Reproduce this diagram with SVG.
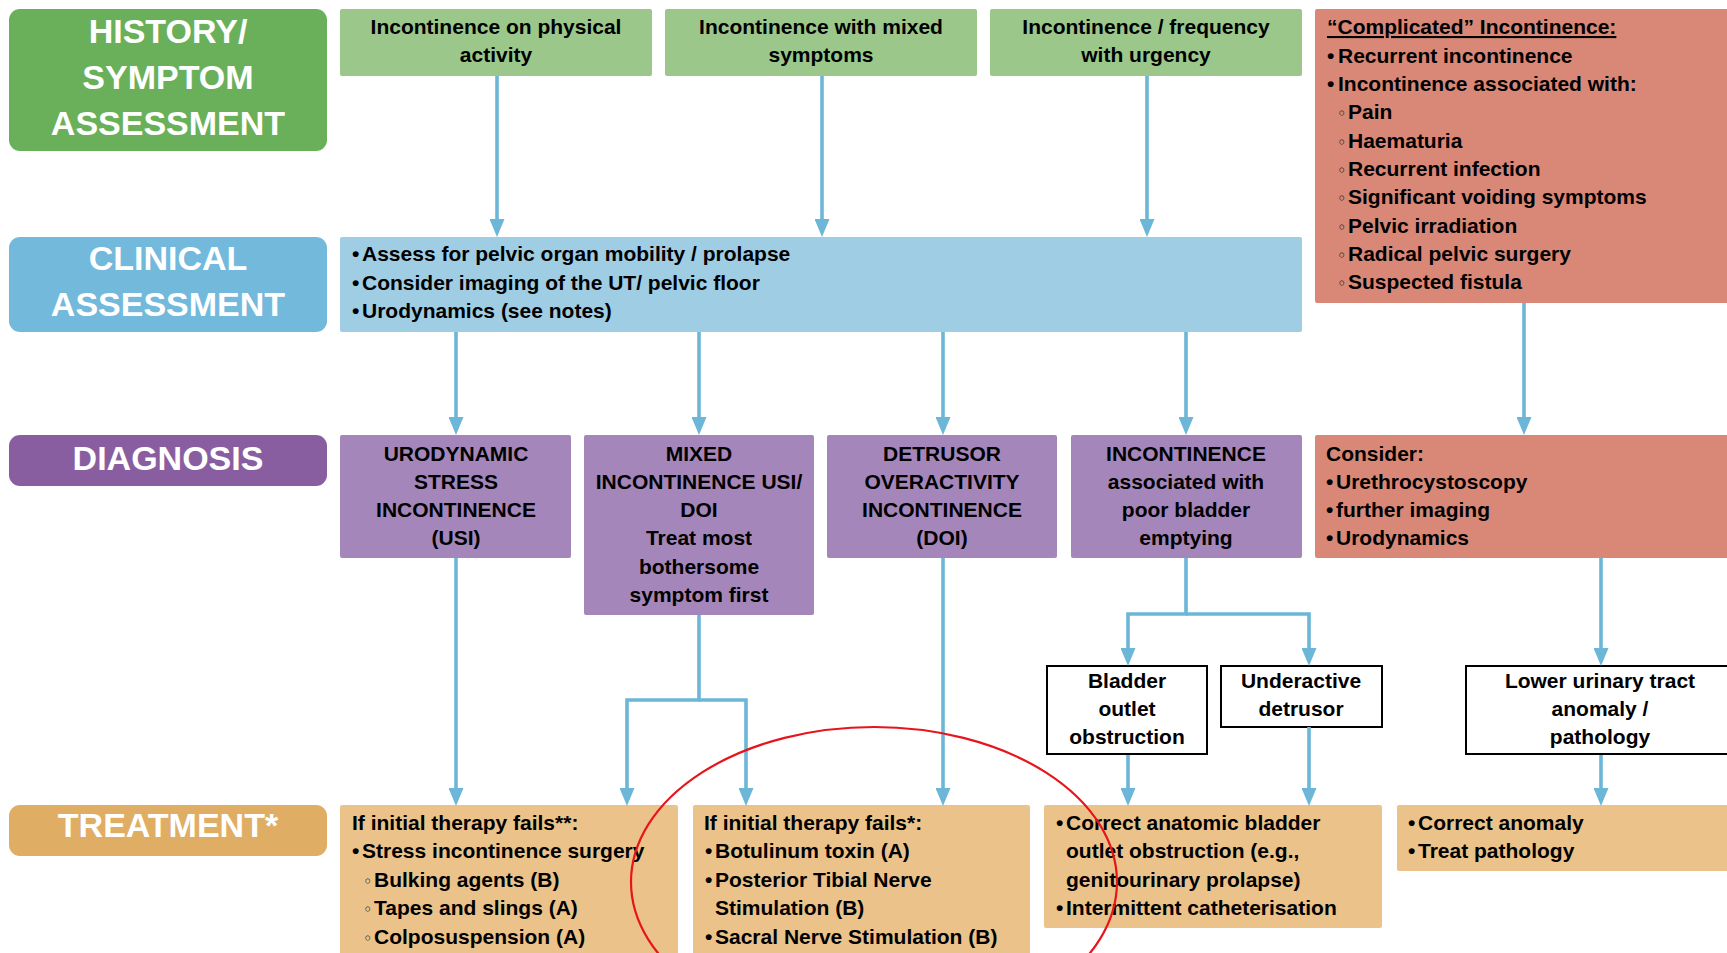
<svg xmlns="http://www.w3.org/2000/svg" width="1727" height="953" viewBox="0 0 1727 953">
<style>
text{font-family:"Liberation Sans",Arial,Helvetica,sans-serif;font-weight:bold;font-size:21px;fill:#000}
.lab{font-size:34px;fill:#fff;text-anchor:middle}
.c{text-anchor:middle}
.sm{font-family:"DejaVu Sans","Liberation Sans",sans-serif;font-size:16px;font-weight:normal}
.conn path{fill:none;stroke:#6cb6d8;stroke-width:3.6;stroke-linejoin:miter;marker-end:url(#ah)}
.g{fill:#9bc78b}
.b{fill:#9fcde3}
.p{fill:#a586bb}
.r{fill:#d98878}
.t{fill:#ebc38a}
.w{fill:#fff;stroke:#000;stroke-width:2}
</style>
<defs>
<marker id="ah" markerUnits="userSpaceOnUse" viewBox="0 0 18 15" refX="4" refY="7.5" markerWidth="18" markerHeight="15" orient="auto">
<path d="M0,0 L18,7.5 L0,15 z" fill="#6cb6d8"/>
</marker>
</defs>
<rect width="1727" height="953" fill="#fff"/>

<g id="label-history"><rect x="9" y="9" width="318" height="142" rx="11" fill="#6ab05a"/>
<text class="lab" x="168" y="43">HISTORY/</text><text class="lab" x="168" y="89">SYMPTOM</text><text class="lab" x="168" y="135">ASSESSMENT</text></g>
<g id="label-clinical"><rect x="9" y="237" width="318" height="95" rx="11" fill="#72b9dc"/>
<text class="lab" x="168" y="270">CLINICAL</text><text class="lab" x="168" y="316">ASSESSMENT</text></g>
<g id="label-diagnosis"><rect x="9" y="435" width="318" height="51" rx="11" fill="#895ea1"/>
<text class="lab" x="168" y="470">DIAGNOSIS</text></g>
<g id="label-treatment"><rect x="9" y="805" width="318" height="51" rx="11" fill="#e0ad64"/>
<text class="lab" x="168" y="837">TREATMENT*</text></g>

<g id="sym-physical"><rect class="g" x="340" y="9" width="312" height="67" rx="2"/>
<text class="c" x="496" y="34">Incontinence on physical</text><text class="c" x="496" y="62">activity</text></g>
<g id="sym-mixed"><rect class="g" x="665" y="9" width="312" height="67" rx="2"/>
<text class="c" x="821" y="34">Incontinence with mixed</text><text class="c" x="821" y="62">symptoms</text></g>
<g id="sym-urgency"><rect class="g" x="990" y="9" width="312" height="67" rx="2"/>
<text class="c" x="1146" y="34">Incontinence / frequency</text><text class="c" x="1146" y="62">with urgency</text></g>

<g id="complicated"><rect class="r" x="1315" y="9" width="420" height="294" rx="2"/>
<text x="1327" y="34" text-decoration="underline">“Complicated” Incontinence:</text>
<text y="63"><tspan x="1327">•</tspan><tspan x="1338">Recurrent incontinence</tspan></text>
<text y="91"><tspan x="1327">•</tspan><tspan x="1338">Incontinence associated with:</tspan></text>
<text y="119"><tspan class="sm" x="1337">◦</tspan><tspan x="1348">Pain</tspan></text>
<text y="148"><tspan class="sm" x="1337">◦</tspan><tspan x="1348">Haematuria</tspan></text>
<text y="176"><tspan class="sm" x="1337">◦</tspan><tspan x="1348">Recurrent infection</tspan></text>
<text y="204"><tspan class="sm" x="1337">◦</tspan><tspan x="1348">Significant voiding symptoms</tspan></text>
<text y="233"><tspan class="sm" x="1337">◦</tspan><tspan x="1348">Pelvic irradiation</tspan></text>
<text y="261"><tspan class="sm" x="1337">◦</tspan><tspan x="1348">Radical pelvic surgery</tspan></text>
<text y="289"><tspan class="sm" x="1337">◦</tspan><tspan x="1348">Suspected fistula</tspan></text></g>

<g id="clinical"><rect class="b" x="340" y="237" width="962" height="95" rx="2"/>
<text y="261"><tspan x="352">•</tspan><tspan x="362">Assess for pelvic organ mobility / prolapse</tspan></text>
<text y="290"><tspan x="352">•</tspan><tspan x="362">Consider imaging of the UT/ pelvic floor</tspan></text>
<text y="318"><tspan x="352">•</tspan><tspan x="362">Urodynamics (see notes)</tspan></text></g>

<g id="dx-usi"><rect class="p" x="340" y="435" width="231" height="123" rx="2"/>
<text class="c" x="456" y="461">URODYNAMIC</text><text class="c" x="456" y="489">STRESS</text><text class="c" x="456" y="517">INCONTINENCE</text><text class="c" x="456" y="545">(USI)</text></g>
<g id="dx-mixed"><rect class="p" x="584" y="435" width="230" height="180" rx="2"/>
<text class="c" x="699" y="461">MIXED</text><text class="c" x="699" y="489">INCONTINENCE USI/</text><text class="c" x="699" y="517">DOI</text><text class="c" x="699" y="545">Treat most</text><text class="c" x="699" y="574">bothersome</text><text class="c" x="699" y="602">symptom first</text></g>
<g id="dx-doi"><rect class="p" x="827" y="435" width="230" height="123" rx="2"/>
<text class="c" x="942" y="461">DETRUSOR</text><text class="c" x="942" y="489">OVERACTIVITY</text><text class="c" x="942" y="517">INCONTINENCE</text><text class="c" x="942" y="545">(DOI)</text></g>
<g id="dx-poor"><rect class="p" x="1071" y="435" width="231" height="123" rx="2"/>
<text class="c" x="1186" y="461">INCONTINENCE</text><text class="c" x="1186" y="489">associated with</text><text class="c" x="1186" y="517">poor bladder</text><text class="c" x="1186" y="545">emptying</text></g>
<g id="dx-consider"><rect class="r" x="1315" y="435" width="420" height="123" rx="2"/>
<text x="1326" y="461">Consider:</text>
<text y="489"><tspan x="1326">•</tspan><tspan x="1336">Urethrocystoscopy</tspan></text>
<text y="517"><tspan x="1326">•</tspan><tspan x="1336">further imaging</tspan></text>
<text y="545"><tspan x="1326">•</tspan><tspan x="1336">Urodynamics</tspan></text></g>

<g id="bladder-outlet"><rect class="w" x="1047" y="666" width="160" height="88"/>
<text class="c" x="1127" y="688">Bladder</text><text class="c" x="1127" y="716">outlet</text><text class="c" x="1127" y="744">obstruction</text></g>
<g id="underactive"><rect class="w" x="1221" y="666" width="161" height="61"/>
<text class="c" x="1301" y="688">Underactive</text><text class="c" x="1301" y="716">detrusor</text></g>
<g id="lut-anomaly"><rect class="w" x="1466" y="666" width="270" height="88"/>
<text class="c" x="1600" y="688">Lower urinary tract</text><text class="c" x="1600" y="716">anomaly /</text><text class="c" x="1600" y="744">pathology</text></g>

<g id="tx-usi"><rect class="t" x="340" y="805" width="338" height="160" rx="2"/>
<text x="352" y="830">If initial therapy fails**:</text>
<text y="858"><tspan x="352">•</tspan><tspan x="362">Stress incontinence surgery</tspan></text>
<text y="887"><tspan class="sm" x="363">◦</tspan><tspan x="374">Bulking agents (B)</tspan></text>
<text y="915"><tspan class="sm" x="363">◦</tspan><tspan x="374">Tapes and slings (A)</tspan></text>
<text y="944"><tspan class="sm" x="363">◦</tspan><tspan x="374">Colposuspension (A)</tspan></text></g>
<g id="tx-doi"><rect class="t" x="693" y="805" width="337" height="160" rx="2"/>
<text x="704" y="830">If initial therapy fails*:</text>
<text y="858"><tspan x="705">•</tspan><tspan x="715">Botulinum toxin (A)</tspan></text>
<text y="887"><tspan x="705">•</tspan><tspan x="715">Posterior Tibial Nerve</tspan></text>
<text y="915"><tspan x="715">Stimulation (B)</tspan></text>
<text y="944"><tspan x="705">•</tspan><tspan x="715">Sacral Nerve Stimulation (B)</tspan></text></g>
<g id="tx-poor"><rect class="t" x="1044" y="805" width="338" height="123" rx="2"/>
<text y="830"><tspan x="1056">•</tspan><tspan x="1066">Correct anatomic bladder</tspan></text>
<text y="858"><tspan x="1066">outlet obstruction (e.g.,</tspan></text>
<text y="887"><tspan x="1066">genitourinary prolapse)</tspan></text>
<text y="915"><tspan x="1056">•</tspan><tspan x="1066">Intermittent catheterisation</tspan></text></g>
<g id="tx-anomaly"><rect class="t" x="1397" y="805" width="340" height="66" rx="2"/>
<text y="830"><tspan x="1408">•</tspan><tspan x="1418">Correct anomaly</tspan></text>
<text y="858"><tspan x="1408">•</tspan><tspan x="1418">Treat pathology</tspan></text></g>

<g id="connectors" class="conn">
<path d="M497 76 V223"/>
<path d="M822 76 V223"/>
<path d="M1147 76 V223"/>
<path d="M456 332 V421"/>
<path d="M699 332 V421"/>
<path d="M943 332 V421"/>
<path d="M1186 332 V421"/>
<path d="M1524 303 V421"/>
<path d="M456 558 V792"/>
<path d="M699 615 V700 H627 V792"/>
<path d="M699 700 H746 V792"/>
<path d="M943 558 V792"/>
<path d="M1186 558 V614 H1128 V652"/>
<path d="M1186 614 H1309 V652"/>
<path d="M1601 558 V652"/>
<path d="M1128 755 V792"/>
<path d="M1309 727 V792"/>
<path d="M1601 755 V792"/>
</g>

<ellipse cx="874" cy="882" rx="243" ry="155" fill="none" stroke="#e8141c" stroke-width="2.2"/>
</svg>
